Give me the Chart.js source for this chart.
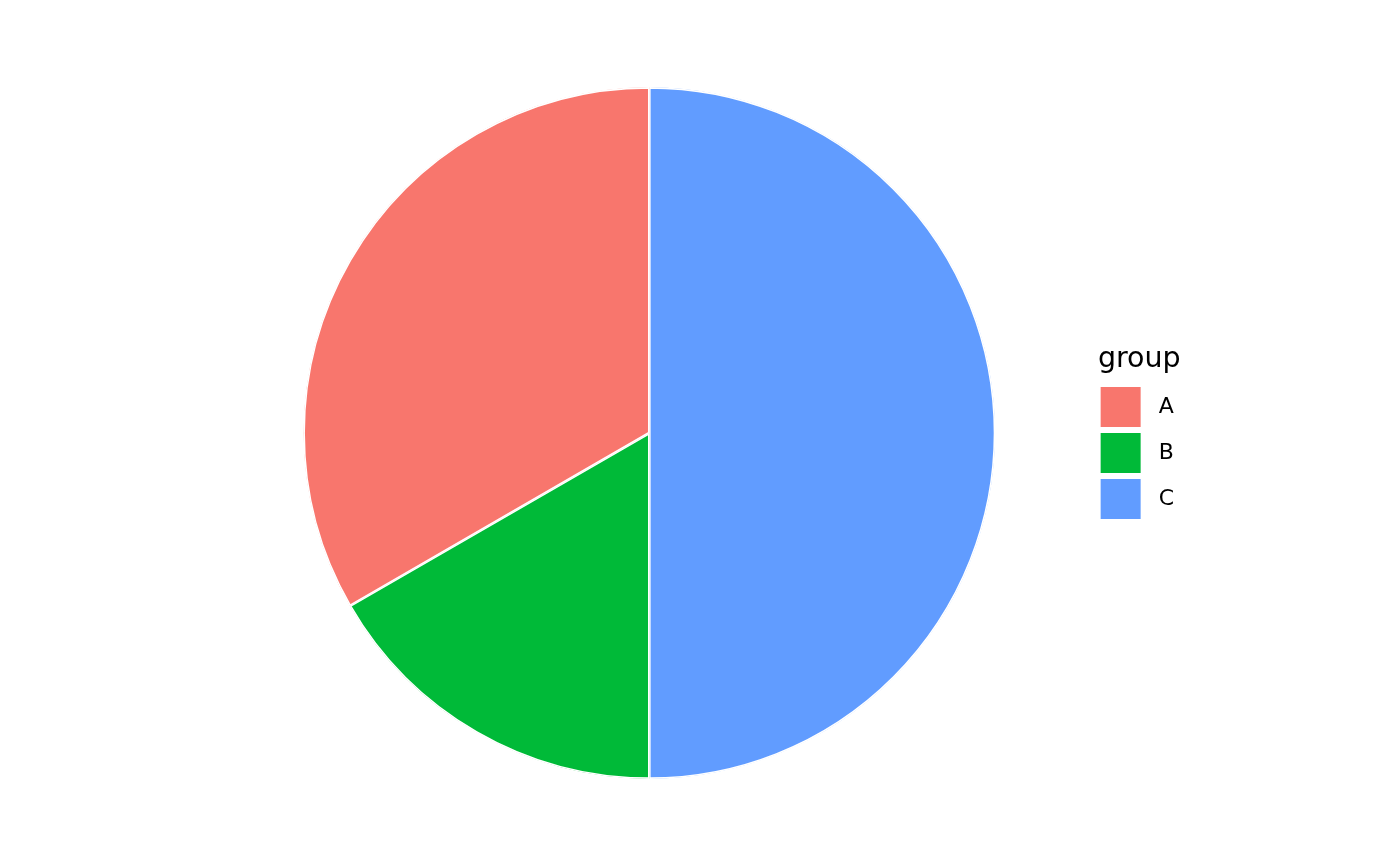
<!DOCTYPE html>
<html>
<head>
<meta charset="utf-8">
<style>
  html, body { margin: 0; padding: 0; background: #ffffff; }
  #wrap { width: 1400px; height: 866px; }
</style>
<script src="https://cdn.jsdelivr.net/npm/chart.js@4"></script>
</head>
<body>
<div id="wrap"><canvas id="pieChart" width="1400" height="866"></canvas></div>
<script>
  // data
  const groups = ['A', 'B', 'C'];
  const values = [2, 1, 3];
  const groupColors = ['#F8766D', '#00BA38', '#619CFF'];

  // drawn clockwise from the top: C, B, A
  const order = [2, 1, 0];

  const ctxPie = document.getElementById('pieChart');
  new Chart(ctxPie, {
    type: 'pie',
    data: {
      labels: order.map(i => groups[i]),
      datasets: [{
        data: order.map(i => values[i]),
        backgroundColor: order.map(i => groupColors[i]),
        borderColor: '#ffffff',
        borderWidth: 1.3,
        borderAlign: 'inner',
        hoverOffset: 0
      }]
    },
    options: {
      responsive: false,
      animation: false,
      layout: { padding: { top: 87, bottom: 87, left: 204, right: 216 } },
      plugins: {
        tooltip: { enabled: false },
        legend: {
          position: 'right',
          align: 'center',
          title: {
            display: true,
            text: 'group',
            color: '#000000',
            font: { family: 'DejaVu Sans', size: 28.5, lineHeight: 1.2 },
            padding: { top: 4, bottom: 2 }
          },
          labels: {
            boxWidth: 40,
            boxHeight: 40,
            padding: 6,
            color: '#000000',
            font: { family: 'DejaVu Sans', size: 22 },
            generateLabels: () => groups.map((g, i) => ({
              text: ' ' + g,
              fillStyle: groupColors[i],
              strokeStyle: groupColors[i],
              lineWidth: 0,
              hidden: false,
              index: order.indexOf(i)
            }))
          }
        }
      }
    }
  });
</script>
</body>
</html>
